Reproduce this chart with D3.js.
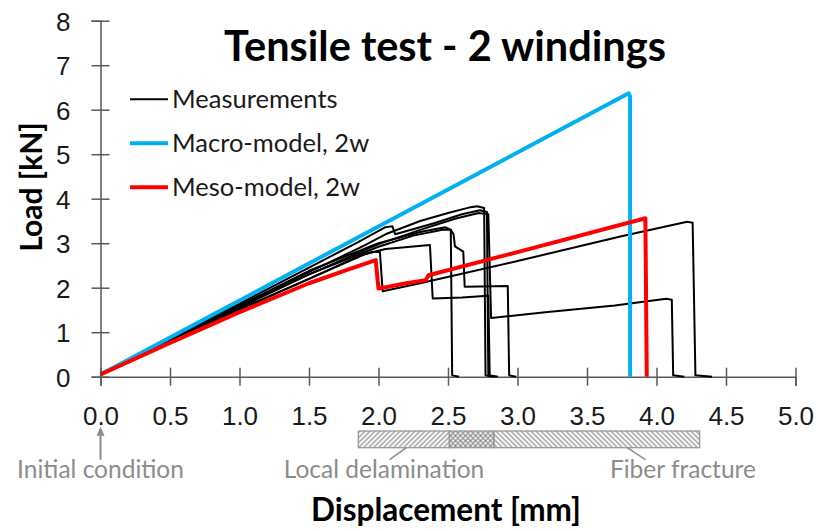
<!DOCTYPE html>
<html>
<head>
<meta charset="utf-8">
<script src="https://cdn.jsdelivr.net/npm/d3@7"></script>
<style>
  body { margin: 0; background: #fff; }
  svg { font-family: Lato, "Open Sans", sans-serif; }
  .axis path, .axis line { stroke: #595959; stroke-width: 1.5; }
  .axis text { fill: #1a1a1a; font-size: 26px; }
  .meas { fill: none; stroke: #000; stroke-width: 2; stroke-linejoin: round; }
  .macro { fill: none; stroke: #00b0f0; stroke-width: 4; stroke-linejoin: round; }
  .meso { fill: none; stroke: #ff0000; stroke-width: 4; stroke-linejoin: round; }
  .note { fill: #8c8c8c; font-size: 24.5px; }
</style>
</head>
<body>
<div id="chart"></div>
<script>
// tick values
var xTicks = [0, 0.5, 1, 1.5, 2, 2.5, 3, 3.5, 4, 4.5, 5];
var yTicks = [0, 1, 2, 3, 4, 5, 6, 7, 8];

// legend
var seriesNames = ["Measurements", "Macro-model, 2w", "Meso-model, 2w"];
var seriesClass = ["meas", "macro", "meso"];

// measured load-displacement curves [mm, kN]
var spec1 = [[0,0.07],[0.5,0.84],[1.0,1.6],[1.5,2.35],[1.9,2.95],[2.05,3.2],[2.3,3.5],[2.5,3.68],[2.65,3.8],[2.71,3.83],[2.76,3.79],[2.77,0.03],[2.82,0]];
var spec2 = [[0,0.07],[0.5,0.86],[1.0,1.64],[1.5,2.45],[1.85,3.02],[2.05,3.36],[2.1,3.38],[2.12,3.2],[2.4,3.45],[2.6,3.65],[2.73,3.74],[2.78,3.7],[2.79,0.03],[2.84,0]];
var spec3 = [[0,0.05],[0.5,0.82],[1.0,1.58],[1.5,2.3],[2.0,2.98],[2.3,3.3],[2.55,3.55],[2.72,3.68],[2.79,3.65],[2.81,1.32],[3.2,1.45],[3.7,1.6],[4.07,1.75],[4.11,1.73],[4.12,0.03],[4.2,0]];
var spec4 = [[0,0.06],[0.5,0.8],[1.0,1.52],[1.5,2.2],[1.85,2.7],[1.95,2.8],[2.01,2.81],[2.03,1.92],[2.3,2.1],[3.0,2.6],[3.74,3.15],[4.22,3.48],[4.26,3.46],[4.28,0.03],[4.4,0]];
var spec5 = [[0,0.05],[0.5,0.78],[1.0,1.5],[1.5,2.2],[1.9,2.75],[2.05,2.87],[2.37,2.96],[2.39,1.76],[2.6,1.78],[2.79,1.82],[2.8,0.03],[2.86,0]];
var spec6 = [[0,0.06],[0.5,0.82],[1.0,1.55],[1.5,2.3],[2.0,2.92],[2.25,3.17],[2.47,3.31],[2.52,3.3],[2.54,3.2],[2.55,2.93],[2.61,2.81],[2.62,2.02],[2.93,2.04],[2.94,0.03],[2.99,0]];
var spec7 = [[0,0.07],[0.5,0.84],[1.0,1.6],[1.5,2.38],[2.0,3.0],[2.3,3.25],[2.48,3.36],[2.52,3.3],[2.53,0.03],[2.58,0]];
var measurements = [spec1, spec2, spec3, spec4, spec5, spec6, spec7];

// models
var macroModel = [[0,0.05],[3.8,6.37],[3.81,6.3],[3.81,0]];
var mesoModel = [[0,0.05],[0.5,0.76],[1.0,1.45],[1.5,2.1],[1.8,2.43],[1.98,2.62],[2.0,1.98],[2.2,2.1],[2.34,2.17],[2.36,2.28],[3.0,2.8],[3.92,3.56],[3.93,0]];

// hatched damage zones below the axis [mm]
var zoneFrom = [1.855, 2.51, 2.83];
var zoneTo = [2.51, 2.83, 4.31];
var zonePattern = ["fwd", "cross", "back"];

// annotation labels
var noteText = ["Initial condition", "Local delamination", "Fiber fracture"];
var noteX = [0, 2.04, 4.19];

var margin = {top: 20.7, right: 23.5, bottom: 154.3, left: 100.5},
    width = 819 - margin.left - margin.right,
    height = 531 - margin.top - margin.bottom;

var x = d3.scaleLinear().domain([0, 5]).range([0, width]);
var y = d3.scaleLinear().domain([0, 8]).range([height, 0]);

var line = d3.line()
    .x(function(d) { return x(d[0]); })
    .y(function(d) { return y(d[1]); });

var base = d3.select("#chart").append("svg")
    .attr("width", 819)
    .attr("height", 531);

base.append("rect").attr("width", 819).attr("height", 531).attr("fill", "#fff");

// hatch patterns
var defs = base.append("defs");
var hatch = {
  fwd: "M-1,1 l2,-2 M0,5 l5,-5 M4,6 l2,-2",
  back: "M-1,4 l2,2 M0,0 l5,5 M4,-1 l2,2"
};
hatch.cross = hatch.fwd + " " + hatch.back;
Object.keys(hatch).forEach(function(k) {
  defs.append("pattern")
      .attr("id", "hatch-" + k)
      .attr("patternUnits", "userSpaceOnUse")
      .attr("width", 5).attr("height", 5)
    .append("path")
      .attr("d", hatch[k])
      .attr("stroke", "#7a7a7a")
      .attr("stroke-width", 1.1);
});

var svg = base.append("g")
    .attr("transform", "translate(" + margin.left + "," + margin.top + ")");

// X axis with crossing ticks
var xAxis = svg.append("g")
    .attr("class", "axis")
    .attr("transform", "translate(0," + height + ")")
    .call(d3.axisBottom(x).tickValues(xTicks).tickFormat(d3.format(".1f")).tickSizeOuter(0).tickSize(9));
xAxis.selectAll(".tick line").attr("y1", -9).attr("y2", 9);
xAxis.selectAll(".tick text").attr("y", 48.5).attr("dy", null);

// Y axis
var yAxis = svg.append("g")
    .attr("class", "axis")
    .call(d3.axisLeft(y).tickValues(yTicks).tickFormat(d3.format("d")).tickSizeOuter(0).tickSize(9));
yAxis.selectAll(".tick line").attr("x1", -9).attr("x2", 9);
yAxis.selectAll(".tick text").attr("x", -30).attr("dy", "0.36em");
svg.selectAll(".axis text").attr("font-family", null);

// curves
svg.selectAll(".meas")
    .data(measurements)
  .enter().append("path")
    .attr("class", "meas")
    .attr("d", line);

svg.append("path").datum(macroModel).attr("class", "macro").attr("d", line);
svg.append("path").datum(mesoModel).attr("class", "meso").attr("d", line);

// damage zones
var barTop = 410.3, barH = 16.7;
zoneFrom.forEach(function(f, i) {
  svg.append("rect")
      .attr("x", x(f))
      .attr("y", barTop)
      .attr("width", x(zoneTo[i]) - x(f))
      .attr("height", barH)
      .attr("fill", "url(#hatch-" + zonePattern[i] + ")")
      .attr("stroke", "#999")
      .attr("stroke-width", 1.3);
});

// annotations
noteText.forEach(function(t, i) {
  svg.append("text")
      .attr("class", "note")
      .attr("x", x(noteX[i]))
      .attr("y", 457.5)
      .attr("text-anchor", "middle")
      .text(t);
});

// arrow to the initial condition
svg.append("line")
    .attr("x1", x(0)).attr("x2", x(0))
    .attr("y1", 439).attr("y2", 412)
    .attr("stroke", "#8c8c8c").attr("stroke-width", 2);
svg.append("path")
    .attr("d", "M" + x(0) + ",406 l-4,9 l8,0 z")
    .attr("fill", "#8c8c8c");

// leader lines to the zones
svg.append("line")
    .attr("x1", x(2.08)).attr("y1", 439)
    .attr("x2", x(2.2)).attr("y2", 427)
    .attr("stroke", "#8c8c8c").attr("stroke-width", 1.5);
svg.append("line")
    .attr("x1", x(3.92)).attr("y1", 439)
    .attr("x2", x(3.79)).attr("y2", 427)
    .attr("stroke", "#8c8c8c").attr("stroke-width", 1.5);

// title
base.append("text")
    .attr("x", 445)
    .attr("y", 61)
    .attr("text-anchor", "middle")
    .attr("font-size", "41.5px")
    .attr("font-weight", "bold")
    .attr("fill", "#000")
    .text("Tensile test - 2 windings");

// axis titles
base.append("text")
    .attr("x", 446)
    .attr("y", 521)
    .attr("text-anchor", "middle")
    .attr("font-size", "31.5px")
    .attr("font-weight", "bold")
    .attr("fill", "#000")
    .text("Displacement [mm]");

base.append("text")
    .attr("transform", "translate(42,187) rotate(-90)")
    .attr("text-anchor", "middle")
    .attr("font-size", "30px")
    .attr("font-weight", "bold")
    .attr("fill", "#000")
    .text("Load [kN]");

// legend
var legendY = [99.3, 143.3, 187.3];
seriesNames.forEach(function(n, i) {
  base.append("line")
      .attr("class", seriesClass[i])
      .attr("x1", 130).attr("x2", 168)
      .attr("y1", legendY[i]).attr("y2", legendY[i]);
  base.append("text")
      .attr("x", 172)
      .attr("y", legendY[i])
      .attr("dy", "0.36em")
      .attr("font-size", "25.5px")
      .attr("fill", "#1a1a1a")
      .text(n);
});
</script>
</body>
</html>
